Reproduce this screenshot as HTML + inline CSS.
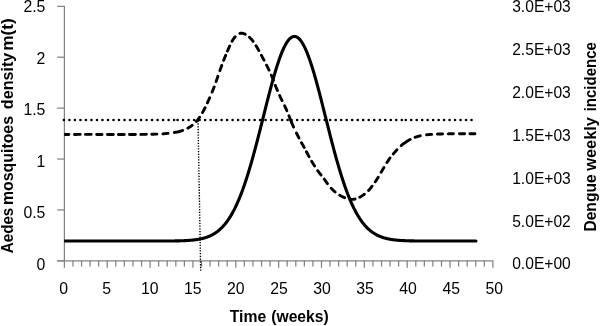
<!DOCTYPE html>
<html><head><meta charset="utf-8"><style>
html,body{margin:0;padding:0;background:#fff;}
svg{display:block;will-change:transform;}
text{font-family:"Liberation Sans",sans-serif;}
</style></head><body>
<svg width="600" height="326" viewBox="0 0 600 326">
<defs><clipPath id="pa"><rect x="64.2" y="0" width="440" height="260.8"/></clipPath></defs>
<rect width="600" height="326" fill="#fff"/>
<g stroke="#828282" stroke-width="1.25" fill="none" stroke-linejoin="miter">
<path d="M57.2,6.3 H64.4 V260.85"/>
<line x1="57.2" y1="260.85" x2="64.4" y2="260.85"/>
<line x1="57.2" y1="209.94" x2="64.4" y2="209.94"/>
<line x1="57.2" y1="159.03" x2="64.4" y2="159.03"/>
<line x1="57.2" y1="108.12" x2="64.4" y2="108.12"/>
<line x1="57.2" y1="57.21" x2="64.4" y2="57.21"/>
<path d="M57.2,260.85 H492.9 V267.8"/>
<line x1="64.40" y1="260.85" x2="64.40" y2="267.8"/>
<line x1="72.97" y1="260.85" x2="72.97" y2="266.6"/>
<line x1="81.54" y1="260.85" x2="81.54" y2="266.6"/>
<line x1="90.11" y1="260.85" x2="90.11" y2="266.6"/>
<line x1="98.68" y1="260.85" x2="98.68" y2="266.6"/>
<line x1="107.25" y1="260.85" x2="107.25" y2="267.8"/>
<line x1="115.82" y1="260.85" x2="115.82" y2="266.6"/>
<line x1="124.39" y1="260.85" x2="124.39" y2="266.6"/>
<line x1="132.96" y1="260.85" x2="132.96" y2="266.6"/>
<line x1="141.53" y1="260.85" x2="141.53" y2="266.6"/>
<line x1="150.10" y1="260.85" x2="150.10" y2="267.8"/>
<line x1="158.67" y1="260.85" x2="158.67" y2="266.6"/>
<line x1="167.24" y1="260.85" x2="167.24" y2="266.6"/>
<line x1="175.81" y1="260.85" x2="175.81" y2="266.6"/>
<line x1="184.38" y1="260.85" x2="184.38" y2="266.6"/>
<line x1="192.95" y1="260.85" x2="192.95" y2="267.8"/>
<line x1="201.52" y1="260.85" x2="201.52" y2="266.6"/>
<line x1="210.09" y1="260.85" x2="210.09" y2="266.6"/>
<line x1="218.66" y1="260.85" x2="218.66" y2="266.6"/>
<line x1="227.23" y1="260.85" x2="227.23" y2="266.6"/>
<line x1="235.80" y1="260.85" x2="235.80" y2="267.8"/>
<line x1="244.37" y1="260.85" x2="244.37" y2="266.6"/>
<line x1="252.94" y1="260.85" x2="252.94" y2="266.6"/>
<line x1="261.51" y1="260.85" x2="261.51" y2="266.6"/>
<line x1="270.08" y1="260.85" x2="270.08" y2="266.6"/>
<line x1="278.65" y1="260.85" x2="278.65" y2="267.8"/>
<line x1="287.22" y1="260.85" x2="287.22" y2="266.6"/>
<line x1="295.79" y1="260.85" x2="295.79" y2="266.6"/>
<line x1="304.36" y1="260.85" x2="304.36" y2="266.6"/>
<line x1="312.93" y1="260.85" x2="312.93" y2="266.6"/>
<line x1="321.50" y1="260.85" x2="321.50" y2="267.8"/>
<line x1="330.07" y1="260.85" x2="330.07" y2="266.6"/>
<line x1="338.64" y1="260.85" x2="338.64" y2="266.6"/>
<line x1="347.21" y1="260.85" x2="347.21" y2="266.6"/>
<line x1="355.78" y1="260.85" x2="355.78" y2="266.6"/>
<line x1="364.35" y1="260.85" x2="364.35" y2="267.8"/>
<line x1="372.92" y1="260.85" x2="372.92" y2="266.6"/>
<line x1="381.49" y1="260.85" x2="381.49" y2="266.6"/>
<line x1="390.06" y1="260.85" x2="390.06" y2="266.6"/>
<line x1="398.63" y1="260.85" x2="398.63" y2="266.6"/>
<line x1="407.20" y1="260.85" x2="407.20" y2="267.8"/>
<line x1="415.77" y1="260.85" x2="415.77" y2="266.6"/>
<line x1="424.34" y1="260.85" x2="424.34" y2="266.6"/>
<line x1="432.91" y1="260.85" x2="432.91" y2="266.6"/>
<line x1="441.48" y1="260.85" x2="441.48" y2="266.6"/>
<line x1="450.05" y1="260.85" x2="450.05" y2="267.8"/>
<line x1="458.62" y1="260.85" x2="458.62" y2="266.6"/>
<line x1="467.19" y1="260.85" x2="467.19" y2="266.6"/>
<line x1="475.76" y1="260.85" x2="475.76" y2="266.6"/>
<line x1="484.33" y1="260.85" x2="484.33" y2="266.6"/>
</g>
<g font-size="15.8" fill="#000">
<text x="45.4" y="269.50" text-anchor="end">0</text>
<text x="45.4" y="218.08" text-anchor="end">0.5</text>
<text x="45.4" y="166.66" text-anchor="end">1</text>
<text x="45.4" y="115.24" text-anchor="end">1.5</text>
<text x="45.4" y="63.82" text-anchor="end">2</text>
<text x="45.4" y="12.40" text-anchor="end">2.5</text>
<text x="512.2" y="269.40" textLength="58.6" lengthAdjust="spacingAndGlyphs">0.0E+00</text>
<text x="512.2" y="226.58" textLength="58.6" lengthAdjust="spacingAndGlyphs">5.0E+02</text>
<text x="512.2" y="183.76" textLength="58.6" lengthAdjust="spacingAndGlyphs">1.0E+03</text>
<text x="512.2" y="140.94" textLength="58.6" lengthAdjust="spacingAndGlyphs">1.5E+03</text>
<text x="512.2" y="98.12" textLength="58.6" lengthAdjust="spacingAndGlyphs">2.0E+03</text>
<text x="512.2" y="55.30" textLength="58.6" lengthAdjust="spacingAndGlyphs">2.5E+03</text>
<text x="512.2" y="12.48" textLength="58.6" lengthAdjust="spacingAndGlyphs">3.0E+03</text>
<text x="63.60" y="293.9" text-anchor="middle">0</text>
<text x="106.66" y="293.9" text-anchor="middle">5</text>
<text x="149.73" y="293.9" text-anchor="middle">10</text>
<text x="192.79" y="293.9" text-anchor="middle">15</text>
<text x="235.86" y="293.9" text-anchor="middle">20</text>
<text x="278.93" y="293.9" text-anchor="middle">25</text>
<text x="321.99" y="293.9" text-anchor="middle">30</text>
<text x="365.06" y="293.9" text-anchor="middle">35</text>
<text x="408.12" y="293.9" text-anchor="middle">40</text>
<text x="451.19" y="293.9" text-anchor="middle">45</text>
<text x="494.25" y="293.9" text-anchor="middle">50</text>
</g>
<g font-weight="bold" font-size="16" fill="#000">
<text transform="translate(13.2,253.20) rotate(-90) scale(0.9479,1)">Aedes</text>
<text transform="translate(13.2,204.99) rotate(-90) scale(0.9921,1)">mosquitoes</text>
<text transform="translate(13.2,109.20) rotate(-90) scale(1.0089,1)">density</text>
<text transform="translate(13.2,50.68) rotate(-90) scale(1.0759,1)">m(t)</text>
<text transform="translate(596,231.58) rotate(-90) scale(0.9754,1)">Dengue</text>
<text transform="translate(596,170.70) rotate(-90) scale(1.0226,1)">weekly</text>
<text transform="translate(596,111.34) rotate(-90) scale(0.9370,1)">incidence</text>
<text transform="translate(229.70,321.5) scale(0.9838,1)">Time</text>
<text transform="translate(271.22,321.5) scale(0.9807,1)">(weeks)</text>
</g>
<g fill="none" stroke="#000">
<line x1="198" y1="120.6" x2="200.7" y2="270.8" stroke-width="1.4" stroke-dasharray="1.3 1.46" stroke="#000"/>
<g stroke-width="2.6" stroke-linecap="round">
<line x1="63.9" y1="119.95" x2="174.20" y2="119.95" stroke-dasharray="0.01 5.5"/>
<line x1="177.6" y1="119.95" x2="287.70" y2="119.95" stroke-dasharray="0.01 5.49"/>
<line x1="291.6" y1="119.95" x2="401.90" y2="119.95" stroke-dasharray="0.01 5.5"/>
<line x1="405.75" y1="119.95" x2="471.69" y2="119.95" stroke-dasharray="0.01 5.47"/>
</g>
<g clip-path="url(#pa)" stroke-linecap="round" stroke-linejoin="round">
<path d="M64.20,134.45 L64.45,134.45 L64.70,134.45 L64.95,134.45 L65.20,134.45 L65.45,134.45 L65.70,134.45 L65.95,134.45 L66.20,134.45 L66.45,134.44 L66.70,134.44 L66.95,134.44 L67.20,134.44 L67.45,134.44 L67.70,134.44 L67.95,134.44 L68.20,134.44 L68.45,134.44 L68.70,134.44 L68.95,134.44 L69.20,134.44 L69.45,134.44 L69.70,134.44 L69.95,134.44 L70.20,134.44 L70.45,134.44 L70.70,134.44 L70.95,134.44 L71.20,134.43 L71.45,134.43 L71.70,134.43 L71.95,134.43 L72.20,134.43 L72.45,134.43 L72.70,134.43 L72.95,134.43 L73.20,134.43 L73.45,134.43 L73.70,134.43 L73.95,134.43 L74.20,134.43 L74.45,134.43 L74.70,134.43 L74.95,134.43 L75.20,134.43 L75.45,134.43 L75.70,134.43 L75.95,134.43 L76.20,134.43 L76.45,134.43 L76.70,134.43 L76.95,134.43 L77.20,134.42 L77.45,134.42 L77.70,134.42 L77.95,134.42 L78.20,134.42 L78.45,134.42 L78.70,134.42 L78.95,134.42 L79.20,134.42 L79.45,134.42 L79.70,134.42 L79.95,134.42 L80.20,134.42 L80.45,134.42 L80.70,134.42 L80.95,134.42 L81.20,134.42 L81.45,134.42 L81.70,134.42 L81.95,134.42 L82.20,134.42 L82.45,134.42 L82.70,134.42 L82.95,134.42 L83.20,134.42 L83.45,134.42 L83.70,134.42 L83.95,134.42 L84.20,134.42 L84.45,134.42 L84.70,134.42 L84.95,134.42 L85.20,134.42 L85.45,134.42 L85.70,134.42 L85.95,134.42 L86.20,134.42 L86.45,134.42 L86.70,134.42 L86.95,134.42 L87.20,134.42 L87.45,134.42 L87.70,134.42 L87.95,134.42 L88.20,134.42 L88.45,134.42 L88.70,134.42 L88.95,134.42 L89.20,134.42 L89.45,134.42 L89.70,134.42 L89.95,134.42 L90.20,134.42 L90.45,134.42 L90.70,134.42 L90.95,134.42 L91.20,134.42 L91.45,134.42 L91.70,134.42 L91.95,134.43 L92.20,134.43 L92.45,134.43 L92.70,134.43 L92.95,134.43 L93.20,134.43 L93.45,134.43 L93.70,134.43 L93.95,134.43 L94.20,134.43 L94.45,134.43 L94.70,134.43 L94.95,134.43 L95.20,134.43 L95.45,134.43 L95.70,134.43 L95.95,134.44 L96.20,134.44 L96.45,134.44 L96.70,134.44 L96.95,134.44 L97.20,134.44 L97.45,134.44 L97.70,134.44 L97.95,134.44 L98.20,134.44 L98.45,134.44 L98.70,134.44 L98.95,134.45 L99.20,134.45 L99.45,134.45 L99.70,134.45 L99.95,134.45 L100.20,134.45 L100.45,134.45 L100.70,134.45 L100.95,134.45 L101.20,134.46 L101.45,134.46 L101.70,134.46 L101.95,134.46 L102.20,134.46 L102.45,134.46 L102.70,134.46 L102.95,134.46 L103.20,134.47 L103.45,134.47 L103.70,134.47 L103.95,134.47 L104.20,134.47 L104.45,134.47 L104.70,134.47 L104.95,134.48 L105.20,134.48 L105.45,134.48 L105.70,134.48 L105.95,134.48 L106.20,134.48 L106.45,134.48 L106.70,134.49 L106.95,134.49 L107.20,134.49 L107.45,134.49 L107.70,134.49 L107.95,134.49 L108.20,134.50 L108.45,134.50 L108.70,134.50 L108.95,134.50 L109.20,134.50 L109.45,134.50 L109.70,134.50 L109.95,134.51 L110.20,134.51 L110.45,134.51 L110.70,134.51 L110.95,134.51 L111.20,134.51 L111.45,134.51 L111.70,134.52 L111.95,134.52 L112.20,134.52 L112.45,134.52 L112.70,134.52 L112.95,134.52 L113.20,134.52 L113.45,134.53 L113.70,134.53 L113.95,134.53 L114.20,134.53 L114.45,134.53 L114.70,134.53 L114.95,134.53 L115.20,134.54 L115.45,134.54 L115.70,134.54 L115.95,134.54 L116.20,134.54 L116.45,134.54 L116.70,134.54 L116.95,134.54 L117.20,134.54 L117.45,134.55 L117.70,134.55 L117.95,134.55 L118.20,134.55 L118.45,134.55 L118.70,134.55 L118.95,134.55 L119.20,134.55 L119.45,134.55 L119.70,134.55 L119.95,134.55 L120.20,134.56 L120.45,134.56 L120.70,134.56 L120.95,134.56 L121.20,134.56 L121.45,134.56 L121.70,134.56 L121.95,134.56 L122.20,134.56 L122.45,134.56 L122.70,134.56 L122.95,134.56 L123.20,134.56 L123.45,134.56 L123.70,134.56 L123.95,134.56 L124.20,134.56 L124.45,134.56 L124.70,134.56 L124.95,134.56 L125.20,134.56 L125.45,134.56 L125.70,134.56 L125.95,134.56 L126.20,134.56 L126.45,134.56 L126.70,134.56 L126.95,134.56 L127.20,134.56 L127.45,134.56 L127.70,134.56 L127.95,134.56 L128.20,134.56 L128.45,134.56 L128.70,134.56 L128.95,134.55 L129.20,134.55 L129.45,134.55 L129.70,134.55 L129.95,134.55 L130.20,134.55 L130.45,134.55 L130.70,134.55 L130.95,134.55 L131.20,134.54 L131.45,134.54 L131.70,134.54 L131.95,134.54 L132.20,134.54 L132.45,134.54 L132.70,134.53 L132.95,134.53 L133.20,134.53 L133.45,134.53 L133.70,134.53 L133.95,134.52 L134.20,134.52 L134.45,134.52 L134.70,134.52 L134.95,134.52 L135.20,134.51 L135.45,134.51 L135.70,134.51 L135.95,134.50 L136.20,134.50 L136.45,134.50 L136.70,134.50 L136.95,134.49 L137.20,134.49 L137.45,134.49 L137.70,134.48 L137.95,134.48 L138.20,134.48 L138.45,134.47 L138.70,134.47 L138.95,134.47 L139.20,134.46 L139.45,134.46 L139.70,134.45 L139.95,134.45 L140.20,134.45 L140.45,134.44 L140.70,134.44 L140.95,134.43 L141.20,134.43 L141.45,134.42 L141.70,134.42 L141.95,134.41 L142.20,134.41 L142.45,134.41 L142.70,134.40 L142.95,134.40 L143.20,134.39 L143.45,134.39 L143.70,134.38 L143.95,134.38 L144.20,134.37 L144.45,134.36 L144.70,134.36 L144.95,134.35 L145.20,134.35 L145.45,134.34 L145.70,134.34 L145.95,134.33 L146.20,134.33 L146.45,134.32 L146.70,134.32 L146.95,134.31 L147.20,134.31 L147.45,134.30 L147.70,134.30 L147.95,134.29 L148.20,134.29 L148.45,134.28 L148.70,134.28 L148.95,134.27 L149.20,134.26 L149.45,134.26 L149.70,134.25 L149.95,134.25 L150.20,134.24 L150.45,134.24 L150.70,134.23 L150.95,134.23 L151.20,134.22 L151.45,134.22 L151.70,134.22 L151.95,134.21 L152.20,134.21 L152.45,134.20 L152.70,134.20 L152.95,134.19 L153.20,134.19 L153.45,134.18 L153.70,134.18 L153.95,134.18 L154.20,134.17 L154.45,134.17 L154.70,134.16 L154.95,134.16 L155.20,134.15 L155.45,134.15 L155.70,134.14 L155.95,134.14 L156.20,134.13 L156.45,134.12 L156.70,134.12 L156.95,134.11 L157.20,134.11 L157.45,134.10 L157.70,134.09 L157.95,134.08 L158.20,134.08 L158.45,134.07 L158.70,134.06 L158.95,134.05 L159.20,134.04 L159.45,134.03 L159.70,134.02 L159.95,134.01 L160.20,133.99 L160.45,133.98 L160.70,133.97 L160.95,133.95 L161.20,133.94 L161.45,133.93 L161.70,133.91 L161.95,133.89 L162.20,133.88 L162.45,133.86 L162.70,133.84 L162.95,133.82 L163.20,133.80 L163.45,133.78 L163.70,133.76 L163.95,133.74 L164.20,133.71 L164.45,133.69 L164.70,133.66 L164.95,133.64 L165.20,133.61 L165.45,133.58 L165.70,133.56 L165.95,133.53 L166.20,133.50 L166.45,133.47 L166.70,133.44 L166.95,133.41 L167.20,133.38 L167.45,133.35 L167.70,133.31 L167.95,133.28 L168.20,133.25 L168.45,133.22 L168.70,133.19 L168.95,133.16 L169.20,133.12 L169.45,133.09 L169.70,133.06 L169.95,133.03 L170.20,133.00 L170.45,132.97 L170.70,132.94 L170.95,132.91 L171.20,132.88 L171.45,132.85 L171.70,132.82 L171.95,132.79 L172.20,132.76 L172.45,132.73 L172.70,132.70 L172.95,132.67 L173.20,132.64 L173.45,132.61 L173.70,132.58 L173.95,132.54 L174.20,132.51 L174.45,132.47 L174.70,132.44 L174.95,132.40 L175.20,132.36 L175.45,132.32 L175.70,132.28 L175.95,132.24 L176.20,132.20 L176.45,132.15 L176.70,132.11 L176.95,132.06 L177.20,132.01 L177.45,131.96 L177.70,131.90 L177.95,131.85 L178.20,131.79 L178.45,131.73 L178.70,131.67 L178.95,131.61 L179.20,131.55 L179.45,131.48 L179.70,131.41 L179.95,131.34 L180.20,131.27 L180.45,131.20 L180.70,131.13 L180.95,131.05 L181.20,130.97 L181.45,130.89 L181.70,130.81 L181.95,130.73 L182.20,130.64 L182.45,130.55 L182.70,130.46 L182.95,130.37 L183.20,130.28 L183.45,130.18 L183.70,130.09 L183.95,129.99 L184.20,129.89 L184.45,129.78 L184.70,129.68 L184.95,129.57 L185.20,129.46 L185.45,129.35 L185.70,129.23 L185.95,129.11 L186.20,128.99 L186.45,128.87 L186.70,128.75 L186.95,128.62 L187.20,128.49 L187.45,128.36 L187.70,128.23 L187.95,128.09 L188.20,127.95 L188.45,127.81 L188.70,127.66 L188.95,127.51 L189.20,127.36 L189.45,127.21 L189.70,127.05 L189.95,126.89 L190.20,126.73 L190.45,126.57 L190.70,126.40 L190.95,126.23 L191.20,126.05 L191.45,125.87 L191.70,125.69 L191.95,125.50 L192.20,125.31 L192.45,125.11 L192.70,124.91 L192.95,124.71 L193.20,124.50 L193.45,124.29 L193.70,124.07 L193.95,123.85 L194.20,123.62 L194.45,123.39 L194.70,123.15 L194.95,122.91 L195.20,122.66 L195.45,122.40 L195.70,122.14 L195.95,121.88 L196.20,121.60 L196.45,121.33 L196.70,121.04 L196.95,120.75 L197.20,120.45 L197.45,120.15 L197.70,119.84 L197.95,119.52 L198.20,119.20 L198.45,118.87 L198.70,118.54 L198.95,118.20 L199.20,117.85 L199.45,117.49 L199.70,117.13 L199.95,116.76 L200.20,116.39 L200.45,116.01 L200.70,115.62 L200.95,115.23 L201.20,114.83 L201.45,114.42 L201.70,114.00 L201.95,113.58 L202.20,113.15 L202.45,112.72 L202.70,112.28 L202.95,111.83 L203.20,111.37 L203.45,110.91 L203.70,110.44 L203.95,109.96 L204.20,109.48 L204.45,108.99 L204.70,108.50 L204.95,108.00 L205.20,107.49 L205.45,106.98 L205.70,106.47 L205.95,105.95 L206.20,105.42 L206.45,104.89 L206.70,104.36 L206.95,103.82 L207.20,103.28 L207.45,102.74 L207.70,102.19 L207.95,101.64 L208.20,101.09 L208.45,100.53 L208.70,99.97 L208.95,99.41 L209.20,98.85 L209.45,98.28 L209.70,97.71 L209.95,97.14 L210.20,96.57 L210.45,95.99 L210.70,95.41 L210.95,94.82 L211.20,94.24 L211.45,93.64 L211.70,93.05 L211.95,92.45 L212.20,91.84 L212.45,91.23 L212.70,90.62 L212.95,90.00 L213.20,89.37 L213.45,88.74 L213.70,88.10 L213.95,87.45 L214.20,86.80 L214.45,86.13 L214.70,85.46 L214.95,84.78 L215.20,84.09 L215.45,83.40 L215.70,82.69 L215.95,81.99 L216.20,81.27 L216.45,80.56 L216.70,79.84 L216.95,79.11 L217.20,78.39 L217.45,77.66 L217.70,76.94 L217.95,76.21 L218.20,75.49 L218.45,74.76 L218.70,74.04 L218.95,73.32 L219.20,72.60 L219.45,71.88 L219.70,71.17 L219.95,70.45 L220.20,69.75 L220.45,69.04 L220.70,68.34 L220.95,67.64 L221.20,66.95 L221.45,66.26 L221.70,65.58 L221.95,64.90 L222.20,64.22 L222.45,63.55 L222.70,62.89 L222.95,62.23 L223.20,61.57 L223.45,60.92 L223.70,60.28 L223.95,59.64 L224.20,59.00 L224.45,58.37 L224.70,57.74 L224.95,57.12 L225.20,56.50 L225.45,55.88 L225.70,55.27 L225.95,54.66 L226.20,54.05 L226.45,53.45 L226.70,52.85 L226.95,52.25 L227.20,51.65 L227.45,51.06 L227.70,50.48 L227.95,49.89 L228.20,49.32 L228.45,48.74 L228.70,48.18 L228.95,47.61 L229.20,47.06 L229.45,46.51 L229.70,45.96 L229.95,45.43 L230.20,44.90 L230.45,44.38 L230.70,43.87 L230.95,43.37 L231.20,42.87 L231.45,42.39 L231.70,41.92 L231.95,41.46 L232.20,41.01 L232.45,40.58 L232.70,40.15 L232.95,39.74 L233.20,39.35 L233.45,38.97 L233.70,38.60 L233.95,38.24 L234.20,37.90 L234.45,37.57 L234.70,37.26 L234.95,36.96 L235.20,36.67 L235.45,36.39 L235.70,36.12 L235.95,35.87 L236.20,35.63 L236.45,35.40 L236.70,35.19 L236.95,34.98 L237.20,34.79 L237.45,34.61 L237.70,34.44 L237.95,34.28 L238.20,34.13 L238.45,33.99 L238.70,33.87 L238.95,33.76 L239.20,33.65 L239.45,33.56 L239.70,33.48 L239.95,33.41 L240.20,33.35 L240.45,33.30 L240.70,33.26 L240.95,33.23 L241.20,33.22 L241.45,33.21 L241.70,33.21 L241.95,33.23 L242.20,33.25 L242.45,33.28 L242.70,33.33 L242.95,33.38 L243.20,33.44 L243.45,33.51 L243.70,33.59 L243.95,33.68 L244.20,33.77 L244.45,33.88 L244.70,33.99 L244.95,34.10 L245.20,34.23 L245.45,34.36 L245.70,34.50 L245.95,34.64 L246.20,34.79 L246.45,34.95 L246.70,35.11 L246.95,35.28 L247.20,35.45 L247.45,35.62 L247.70,35.80 L247.95,35.99 L248.20,36.18 L248.45,36.38 L248.70,36.58 L248.95,36.79 L249.20,37.01 L249.45,37.23 L249.70,37.45 L249.95,37.69 L250.20,37.93 L250.45,38.18 L250.70,38.44 L250.95,38.70 L251.20,38.97 L251.45,39.25 L251.70,39.54 L251.95,39.84 L252.20,40.14 L252.45,40.45 L252.70,40.78 L252.95,41.10 L253.20,41.44 L253.45,41.78 L253.70,42.14 L253.95,42.49 L254.20,42.86 L254.45,43.23 L254.70,43.61 L254.95,43.99 L255.20,44.38 L255.45,44.78 L255.70,45.18 L255.95,45.58 L256.20,46.00 L256.45,46.41 L256.70,46.83 L256.95,47.26 L257.20,47.69 L257.45,48.12 L257.70,48.56 L257.95,49.00 L258.20,49.45 L258.45,49.90 L258.70,50.35 L258.95,50.80 L259.20,51.26 L259.45,51.72 L259.70,52.18 L259.95,52.64 L260.20,53.10 L260.45,53.57 L260.70,54.03 L260.95,54.50 L261.20,54.97 L261.45,55.43 L261.70,55.90 L261.95,56.37 L262.20,56.84 L262.45,57.30 L262.70,57.77 L262.95,58.23 L263.20,58.70 L263.45,59.16 L263.70,59.63 L263.95,60.10 L264.20,60.56 L264.45,61.03 L264.70,61.50 L264.95,61.97 L265.20,62.44 L265.45,62.92 L265.70,63.39 L265.95,63.87 L266.20,64.36 L266.45,64.84 L266.70,65.33 L266.95,65.82 L267.20,66.31 L267.45,66.81 L267.70,67.32 L267.95,67.82 L268.20,68.33 L268.45,68.85 L268.70,69.37 L268.95,69.90 L269.20,70.43 L269.45,70.97 L269.70,71.51 L269.95,72.06 L270.20,72.61 L270.45,73.17 L270.70,73.73 L270.95,74.31 L271.20,74.88 L271.45,75.47 L271.70,76.06 L271.95,76.66 L272.20,77.27 L272.45,77.88 L272.70,78.50 L272.95,79.12 L273.20,79.76 L273.45,80.40 L273.70,81.04 L273.95,81.69 L274.20,82.35 L274.45,83.00 L274.70,83.66 L274.95,84.32 L275.20,84.97 L275.45,85.62 L275.70,86.27 L275.95,86.91 L276.20,87.54 L276.45,88.17 L276.70,88.79 L276.95,89.40 L277.20,90.01 L277.45,90.61 L277.70,91.20 L277.95,91.79 L278.20,92.37 L278.45,92.94 L278.70,93.51 L278.95,94.07 L279.20,94.63 L279.45,95.18 L279.70,95.72 L279.95,96.26 L280.20,96.79 L280.45,97.32 L280.70,97.84 L280.95,98.36 L281.20,98.87 L281.45,99.38 L281.70,99.88 L281.95,100.39 L282.20,100.89 L282.45,101.39 L282.70,101.89 L282.95,102.40 L283.20,102.90 L283.45,103.40 L283.70,103.91 L283.95,104.42 L284.20,104.93 L284.45,105.45 L284.70,105.97 L284.95,106.49 L285.20,107.02 L285.45,107.56 L285.70,108.10 L285.95,108.65 L286.20,109.20 L286.45,109.77 L286.70,110.33 L286.95,110.91 L287.20,111.49 L287.45,112.09 L287.70,112.69 L287.95,113.30 L288.20,113.91 L288.45,114.54 L288.70,115.18 L288.95,115.82 L289.20,116.46 L289.45,117.11 L289.70,117.75 L289.95,118.40 L290.20,119.04 L290.45,119.67 L290.70,120.31 L290.95,120.93 L291.20,121.55 L291.45,122.16 L291.70,122.77 L291.95,123.37 L292.20,123.96 L292.45,124.55 L292.70,125.12 L292.95,125.69 L293.20,126.25 L293.45,126.80 L293.70,127.35 L293.95,127.88 L294.20,128.41 L294.45,128.94 L294.70,129.46 L294.95,129.97 L295.20,130.48 L295.45,130.99 L295.70,131.49 L295.95,131.99 L296.20,132.49 L296.45,132.99 L296.70,133.49 L296.95,133.99 L297.20,134.49 L297.45,134.99 L297.70,135.48 L297.95,135.98 L298.20,136.47 L298.45,136.97 L298.70,137.46 L298.95,137.95 L299.20,138.43 L299.45,138.91 L299.70,139.39 L299.95,139.86 L300.20,140.33 L300.45,140.80 L300.70,141.26 L300.95,141.72 L301.20,142.17 L301.45,142.62 L301.70,143.07 L301.95,143.51 L302.20,143.96 L302.45,144.40 L302.70,144.84 L302.95,145.29 L303.20,145.73 L303.45,146.18 L303.70,146.63 L303.95,147.08 L304.20,147.54 L304.45,148.00 L304.70,148.46 L304.95,148.93 L305.20,149.40 L305.45,149.88 L305.70,150.35 L305.95,150.83 L306.20,151.31 L306.45,151.79 L306.70,152.27 L306.95,152.75 L307.20,153.23 L307.45,153.71 L307.70,154.19 L307.95,154.66 L308.20,155.13 L308.45,155.60 L308.70,156.06 L308.95,156.52 L309.20,156.98 L309.45,157.43 L309.70,157.88 L309.95,158.33 L310.20,158.77 L310.45,159.21 L310.70,159.64 L310.95,160.08 L311.20,160.51 L311.45,160.93 L311.70,161.36 L311.95,161.78 L312.20,162.20 L312.45,162.61 L312.70,163.03 L312.95,163.44 L313.20,163.85 L313.45,164.26 L313.70,164.67 L313.95,165.07 L314.20,165.47 L314.45,165.87 L314.70,166.27 L314.95,166.66 L315.20,167.05 L315.45,167.43 L315.70,167.81 L315.95,168.19 L316.20,168.56 L316.45,168.93 L316.70,169.29 L316.95,169.65 L317.20,170.00 L317.45,170.35 L317.70,170.70 L317.95,171.04 L318.20,171.37 L318.45,171.70 L318.70,172.03 L318.95,172.36 L319.20,172.68 L319.45,173.00 L319.70,173.31 L319.95,173.63 L320.20,173.94 L320.45,174.25 L320.70,174.56 L320.95,174.87 L321.20,175.18 L321.45,175.49 L321.70,175.80 L321.95,176.11 L322.20,176.42 L322.45,176.74 L322.70,177.05 L322.95,177.37 L323.20,177.69 L323.45,178.02 L323.70,178.35 L323.95,178.68 L324.20,179.03 L324.45,179.37 L324.70,179.73 L324.95,180.09 L325.20,180.45 L325.45,180.82 L325.70,181.18 L325.95,181.55 L326.20,181.91 L326.45,182.27 L326.70,182.62 L326.95,182.97 L327.20,183.31 L327.45,183.65 L327.70,183.99 L327.95,184.32 L328.20,184.64 L328.45,184.97 L328.70,185.29 L328.95,185.60 L329.20,185.91 L329.45,186.21 L329.70,186.52 L329.95,186.81 L330.20,187.10 L330.45,187.39 L330.70,187.68 L330.95,187.96 L331.20,188.23 L331.45,188.50 L331.70,188.77 L331.95,189.03 L332.20,189.29 L332.45,189.54 L332.70,189.79 L332.95,190.03 L333.20,190.27 L333.45,190.51 L333.70,190.74 L333.95,190.97 L334.20,191.19 L334.45,191.41 L334.70,191.63 L334.95,191.84 L335.20,192.05 L335.45,192.25 L335.70,192.45 L335.95,192.65 L336.20,192.84 L336.45,193.03 L336.70,193.22 L336.95,193.40 L337.20,193.59 L337.45,193.76 L337.70,193.94 L337.95,194.11 L338.20,194.28 L338.45,194.44 L338.70,194.60 L338.95,194.76 L339.20,194.92 L339.45,195.08 L339.70,195.23 L339.95,195.38 L340.20,195.52 L340.45,195.66 L340.70,195.80 L340.95,195.94 L341.20,196.08 L341.45,196.21 L341.70,196.34 L341.95,196.46 L342.20,196.59 L342.45,196.71 L342.70,196.83 L342.95,196.94 L343.20,197.06 L343.45,197.17 L343.70,197.28 L343.95,197.38 L344.20,197.48 L344.45,197.58 L344.70,197.68 L344.95,197.78 L345.20,197.87 L345.45,197.96 L345.70,198.05 L345.95,198.13 L346.20,198.22 L346.45,198.30 L346.70,198.37 L346.95,198.45 L347.20,198.52 L347.45,198.59 L347.70,198.66 L347.95,198.72 L348.20,198.78 L348.45,198.84 L348.70,198.90 L348.95,198.95 L349.20,199.00 L349.45,199.05 L349.70,199.09 L349.95,199.14 L350.20,199.18 L350.45,199.21 L350.70,199.24 L350.95,199.27 L351.20,199.30 L351.45,199.32 L351.70,199.33 L351.95,199.35 L352.20,199.35 L352.45,199.35 L352.70,199.35 L352.95,199.34 L353.20,199.33 L353.45,199.31 L353.70,199.28 L353.95,199.25 L354.20,199.22 L354.45,199.18 L354.70,199.13 L354.95,199.08 L355.20,199.03 L355.45,198.97 L355.70,198.91 L355.95,198.84 L356.20,198.76 L356.45,198.68 L356.70,198.60 L356.95,198.51 L357.20,198.42 L357.45,198.32 L357.70,198.22 L357.95,198.12 L358.20,198.01 L358.45,197.89 L358.70,197.77 L358.95,197.65 L359.20,197.52 L359.45,197.39 L359.70,197.26 L359.95,197.12 L360.20,196.98 L360.45,196.84 L360.70,196.69 L360.95,196.54 L361.20,196.39 L361.45,196.23 L361.70,196.08 L361.95,195.92 L362.20,195.75 L362.45,195.59 L362.70,195.42 L362.95,195.25 L363.20,195.08 L363.45,194.90 L363.70,194.73 L363.95,194.55 L364.20,194.36 L364.45,194.17 L364.70,193.98 L364.95,193.79 L365.20,193.59 L365.45,193.38 L365.70,193.18 L365.95,192.96 L366.20,192.75 L366.45,192.53 L366.70,192.30 L366.95,192.07 L367.20,191.83 L367.45,191.59 L367.70,191.34 L367.95,191.09 L368.20,190.83 L368.45,190.57 L368.70,190.30 L368.95,190.02 L369.20,189.74 L369.45,189.46 L369.70,189.16 L369.95,188.87 L370.20,188.57 L370.45,188.26 L370.70,187.95 L370.95,187.64 L371.20,187.32 L371.45,187.00 L371.70,186.68 L371.95,186.35 L372.20,186.02 L372.45,185.69 L372.70,185.35 L372.95,185.01 L373.20,184.67 L373.45,184.33 L373.70,183.99 L373.95,183.65 L374.20,183.30 L374.45,182.95 L374.70,182.59 L374.95,182.24 L375.20,181.88 L375.45,181.52 L375.70,181.15 L375.95,180.78 L376.20,180.41 L376.45,180.03 L376.70,179.65 L376.95,179.27 L377.20,178.88 L377.45,178.49 L377.70,178.09 L377.95,177.68 L378.20,177.28 L378.45,176.86 L378.70,176.45 L378.95,176.03 L379.20,175.61 L379.45,175.19 L379.70,174.76 L379.95,174.33 L380.20,173.90 L380.45,173.47 L380.70,173.04 L380.95,172.60 L381.20,172.17 L381.45,171.73 L381.70,171.30 L381.95,170.86 L382.20,170.43 L382.45,170.00 L382.70,169.57 L382.95,169.14 L383.20,168.71 L383.45,168.28 L383.70,167.85 L383.95,167.43 L384.20,167.01 L384.45,166.59 L384.70,166.17 L384.95,165.76 L385.20,165.35 L385.45,164.94 L385.70,164.53 L385.95,164.12 L386.20,163.72 L386.45,163.32 L386.70,162.92 L386.95,162.52 L387.20,162.13 L387.45,161.73 L387.70,161.35 L387.95,160.96 L388.20,160.58 L388.45,160.20 L388.70,159.83 L388.95,159.46 L389.20,159.10 L389.45,158.75 L389.70,158.40 L389.95,158.05 L390.20,157.72 L390.45,157.39 L390.70,157.06 L390.95,156.75 L391.20,156.43 L391.45,156.12 L391.70,155.82 L391.95,155.51 L392.20,155.21 L392.45,154.92 L392.70,154.62 L392.95,154.33 L393.20,154.04 L393.45,153.75 L393.70,153.46 L393.95,153.17 L394.20,152.88 L394.45,152.59 L394.70,152.30 L394.95,152.02 L395.20,151.73 L395.45,151.45 L395.70,151.16 L395.95,150.88 L396.20,150.60 L396.45,150.32 L396.70,150.04 L396.95,149.77 L397.20,149.50 L397.45,149.23 L397.70,148.96 L397.95,148.69 L398.20,148.43 L398.45,148.17 L398.70,147.91 L398.95,147.66 L399.20,147.41 L399.45,147.16 L399.70,146.91 L399.95,146.67 L400.20,146.44 L400.45,146.21 L400.70,145.98 L400.95,145.75 L401.20,145.53 L401.45,145.32 L401.70,145.11 L401.95,144.90 L402.20,144.70 L402.45,144.50 L402.70,144.31 L402.95,144.12 L403.20,143.93 L403.45,143.75 L403.70,143.57 L403.95,143.39 L404.20,143.21 L404.45,143.04 L404.70,142.87 L404.95,142.70 L405.20,142.53 L405.45,142.36 L405.70,142.19 L405.95,142.02 L406.20,141.86 L406.45,141.69 L406.70,141.53 L406.95,141.37 L407.20,141.21 L407.45,141.05 L407.70,140.89 L407.95,140.73 L408.20,140.57 L408.45,140.42 L408.70,140.27 L408.95,140.12 L409.20,139.97 L409.45,139.83 L409.70,139.69 L409.95,139.55 L410.20,139.42 L410.45,139.28 L410.70,139.15 L410.95,139.03 L411.20,138.91 L411.45,138.79 L411.70,138.67 L411.95,138.56 L412.20,138.45 L412.45,138.34 L412.70,138.24 L412.95,138.14 L413.20,138.04 L413.45,137.94 L413.70,137.84 L413.95,137.75 L414.20,137.66 L414.45,137.56 L414.70,137.47 L414.95,137.39 L415.20,137.30 L415.45,137.21 L415.70,137.13 L415.95,137.04 L416.20,136.96 L416.45,136.88 L416.70,136.80 L416.95,136.72 L417.20,136.64 L417.45,136.56 L417.70,136.49 L417.95,136.42 L418.20,136.34 L418.45,136.27 L418.70,136.20 L418.95,136.13 L419.20,136.07 L419.45,136.00 L419.70,135.94 L419.95,135.88 L420.20,135.82 L420.45,135.76 L420.70,135.71 L420.95,135.65 L421.20,135.60 L421.45,135.55 L421.70,135.50 L421.95,135.45 L422.20,135.40 L422.45,135.36 L422.70,135.32 L422.95,135.27 L423.20,135.23 L423.45,135.19 L423.70,135.15 L423.95,135.11 L424.20,135.08 L424.45,135.04 L424.70,135.01 L424.95,134.98 L425.20,134.94 L425.45,134.91 L425.70,134.88 L425.95,134.85 L426.20,134.82 L426.45,134.80 L426.70,134.77 L426.95,134.74 L427.20,134.72 L427.45,134.69 L427.70,134.67 L427.95,134.64 L428.20,134.62 L428.45,134.60 L428.70,134.58 L428.95,134.56 L429.20,134.53 L429.45,134.51 L429.70,134.49 L429.95,134.47 L430.20,134.46 L430.45,134.44 L430.70,134.42 L430.95,134.40 L431.20,134.38 L431.45,134.37 L431.70,134.35 L431.95,134.33 L432.20,134.32 L432.45,134.30 L432.70,134.29 L432.95,134.27 L433.20,134.26 L433.45,134.25 L433.70,134.23 L433.95,134.22 L434.20,134.21 L434.45,134.19 L434.70,134.18 L434.95,134.17 L435.20,134.16 L435.45,134.15 L435.70,134.14 L435.95,134.12 L436.20,134.11 L436.45,134.10 L436.70,134.09 L436.95,134.08 L437.20,134.08 L437.45,134.07 L437.70,134.06 L437.95,134.05 L438.20,134.04 L438.45,134.03 L438.70,134.02 L438.95,134.02 L439.20,134.01 L439.45,134.00 L439.70,133.99 L439.95,133.99 L440.20,133.98 L440.45,133.97 L440.70,133.97 L440.95,133.96 L441.20,133.95 L441.45,133.95 L441.70,133.94 L441.95,133.93 L442.20,133.93 L442.45,133.92 L442.70,133.92 L442.95,133.91 L443.20,133.91 L443.45,133.90 L443.70,133.90 L443.95,133.89 L444.20,133.89 L444.45,133.88 L444.70,133.88 L444.95,133.87 L445.20,133.87 L445.45,133.87 L445.70,133.86 L445.95,133.86 L446.20,133.85 L446.45,133.85 L446.70,133.85 L446.95,133.84 L447.20,133.84 L447.45,133.84 L447.70,133.83 L447.95,133.83 L448.20,133.83 L448.45,133.82 L448.70,133.82 L448.95,133.82 L449.20,133.81 L449.45,133.81 L449.70,133.81 L449.95,133.81 L450.20,133.80 L450.45,133.80 L450.70,133.80 L450.95,133.80 L451.20,133.79 L451.45,133.79 L451.70,133.79 L451.95,133.79 L452.20,133.78 L452.45,133.78 L452.70,133.78 L452.95,133.78 L453.20,133.78 L453.45,133.77 L453.70,133.77 L453.95,133.77 L454.20,133.77 L454.45,133.77 L454.70,133.76 L454.95,133.76 L455.20,133.76 L455.45,133.76 L455.70,133.76 L455.95,133.75 L456.20,133.75 L456.45,133.75 L456.70,133.75 L456.95,133.75 L457.20,133.75 L457.45,133.75 L457.70,133.74 L457.95,133.74 L458.20,133.74 L458.45,133.74 L458.70,133.74 L458.95,133.74 L459.20,133.74 L459.45,133.74 L459.70,133.73 L459.95,133.73 L460.20,133.73 L460.45,133.73 L460.70,133.73 L460.95,133.73 L461.20,133.73 L461.45,133.73 L461.70,133.73 L461.95,133.72 L462.20,133.72 L462.45,133.72 L462.70,133.72 L462.95,133.72 L463.20,133.72 L463.45,133.72 L463.70,133.72 L463.95,133.72 L464.20,133.72 L464.45,133.72 L464.70,133.72 L464.95,133.72 L465.20,133.71 L465.45,133.71 L465.70,133.71 L465.95,133.71 L466.20,133.71 L466.45,133.71 L466.70,133.71 L466.95,133.71 L467.20,133.71 L467.45,133.71 L467.70,133.71 L467.95,133.71 L468.20,133.71 L468.45,133.71 L468.70,133.71 L468.95,133.71 L469.20,133.71 L469.45,133.71 L469.70,133.71 L469.95,133.71 L470.20,133.71 L470.45,133.71 L470.70,133.70 L470.95,133.70 L471.20,133.70 L471.45,133.70 L471.70,133.70 L471.95,133.70 L472.20,133.70 L472.45,133.70 L472.70,133.70 L472.95,133.70 L473.20,133.70 L473.45,133.70 L473.70,133.70 L473.95,133.70 L474.20,133.70 L474.45,133.70 L474.70,133.70 L474.95,133.70 L475.20,133.70 L475.45,133.70 L475.70,133.70 L475.95,133.70" stroke-width="2.9" stroke-dasharray="4.68 5.57 5.77 5.23 5.77 5.43 5.40 5.40 5.90 5.10 5.77 5.23 5.97 5.33 5.70 5.30 5.10 6.08 5.10 6.50 8.46 5.73 5.10 5.66 5.50 5.47 5.50 5.39 5.50 6.23 5.50 5.76 5.50 6.04 5.50 5.47 5.50 4.60 5.50 5.24 5.50 5.88 5.50 5.26 5.50 5.25 5.50 5.49 5.50 5.63 5.50 5.56 5.50 5.50 5.50 5.56 5.50 5.75 5.50 5.55 12.12 6.63 5.50 5.40 5.50 4.87 5.50 5.38 5.50 5.67 5.50 5.15 5.50 5.91 5.50 5.59 5.50 5.57 5.10 5.07 5.50 5.69 5.50 5.39 5.50 5.70 5.50 5.85 5.50 5.23 5.50 6.05 10.90 5.24 5.50 6.35 5.10 5.87 5.10 5.75 5.10 6.00 5.20 5.25 5.10 1000.00"/>
<path d="M64.20,241.05 L64.45,241.05 L64.70,241.05 L64.95,241.05 L65.20,241.05 L65.45,241.05 L65.70,241.05 L65.95,241.05 L66.20,241.05 L66.45,241.05 L66.70,241.05 L66.95,241.05 L67.20,241.05 L67.45,241.05 L67.70,241.05 L67.95,241.05 L68.20,241.05 L68.45,241.05 L68.70,241.05 L68.95,241.05 L69.20,241.05 L69.45,241.05 L69.70,241.05 L69.95,241.05 L70.20,241.05 L70.45,241.05 L70.70,241.05 L70.95,241.05 L71.20,241.05 L71.45,241.05 L71.70,241.05 L71.95,241.05 L72.20,241.05 L72.45,241.05 L72.70,241.05 L72.95,241.05 L73.20,241.05 L73.45,241.05 L73.70,241.05 L73.95,241.05 L74.20,241.05 L74.45,241.05 L74.70,241.05 L74.95,241.05 L75.20,241.05 L75.45,241.05 L75.70,241.05 L75.95,241.05 L76.20,241.05 L76.45,241.05 L76.70,241.05 L76.95,241.05 L77.20,241.05 L77.45,241.05 L77.70,241.05 L77.95,241.05 L78.20,241.05 L78.45,241.05 L78.70,241.05 L78.95,241.05 L79.20,241.05 L79.45,241.05 L79.70,241.05 L79.95,241.05 L80.20,241.05 L80.45,241.05 L80.70,241.05 L80.95,241.05 L81.20,241.05 L81.45,241.05 L81.70,241.05 L81.95,241.05 L82.20,241.05 L82.45,241.05 L82.70,241.05 L82.95,241.05 L83.20,241.05 L83.45,241.05 L83.70,241.05 L83.95,241.05 L84.20,241.05 L84.45,241.05 L84.70,241.05 L84.95,241.05 L85.20,241.05 L85.45,241.05 L85.70,241.05 L85.95,241.05 L86.20,241.05 L86.45,241.05 L86.70,241.05 L86.95,241.05 L87.20,241.05 L87.45,241.05 L87.70,241.05 L87.95,241.05 L88.20,241.05 L88.45,241.05 L88.70,241.05 L88.95,241.05 L89.20,241.05 L89.45,241.05 L89.70,241.05 L89.95,241.05 L90.20,241.05 L90.45,241.05 L90.70,241.05 L90.95,241.05 L91.20,241.05 L91.45,241.05 L91.70,241.05 L91.95,241.05 L92.20,241.05 L92.45,241.05 L92.70,241.05 L92.95,241.05 L93.20,241.05 L93.45,241.05 L93.70,241.05 L93.95,241.05 L94.20,241.05 L94.45,241.05 L94.70,241.05 L94.95,241.05 L95.20,241.05 L95.45,241.05 L95.70,241.05 L95.95,241.05 L96.20,241.05 L96.45,241.05 L96.70,241.05 L96.95,241.05 L97.20,241.05 L97.45,241.05 L97.70,241.05 L97.95,241.05 L98.20,241.05 L98.45,241.05 L98.70,241.05 L98.95,241.05 L99.20,241.05 L99.45,241.05 L99.70,241.05 L99.95,241.05 L100.20,241.05 L100.45,241.05 L100.70,241.05 L100.95,241.05 L101.20,241.05 L101.45,241.05 L101.70,241.05 L101.95,241.05 L102.20,241.05 L102.45,241.05 L102.70,241.05 L102.95,241.05 L103.20,241.05 L103.45,241.05 L103.70,241.05 L103.95,241.05 L104.20,241.05 L104.45,241.05 L104.70,241.05 L104.95,241.05 L105.20,241.05 L105.45,241.05 L105.70,241.05 L105.95,241.05 L106.20,241.05 L106.45,241.05 L106.70,241.05 L106.95,241.05 L107.20,241.05 L107.45,241.05 L107.70,241.05 L107.95,241.05 L108.20,241.05 L108.45,241.05 L108.70,241.05 L108.95,241.05 L109.20,241.05 L109.45,241.05 L109.70,241.05 L109.95,241.05 L110.20,241.05 L110.45,241.05 L110.70,241.05 L110.95,241.05 L111.20,241.05 L111.45,241.05 L111.70,241.05 L111.95,241.05 L112.20,241.05 L112.45,241.05 L112.70,241.05 L112.95,241.05 L113.20,241.05 L113.45,241.05 L113.70,241.05 L113.95,241.05 L114.20,241.05 L114.45,241.05 L114.70,241.05 L114.95,241.05 L115.20,241.05 L115.45,241.05 L115.70,241.05 L115.95,241.05 L116.20,241.05 L116.45,241.05 L116.70,241.05 L116.95,241.05 L117.20,241.05 L117.45,241.05 L117.70,241.05 L117.95,241.05 L118.20,241.05 L118.45,241.05 L118.70,241.05 L118.95,241.05 L119.20,241.05 L119.45,241.05 L119.70,241.05 L119.95,241.05 L120.20,241.05 L120.45,241.05 L120.70,241.05 L120.95,241.05 L121.20,241.05 L121.45,241.05 L121.70,241.05 L121.95,241.05 L122.20,241.05 L122.45,241.05 L122.70,241.05 L122.95,241.05 L123.20,241.05 L123.45,241.05 L123.70,241.05 L123.95,241.05 L124.20,241.05 L124.45,241.05 L124.70,241.05 L124.95,241.05 L125.20,241.05 L125.45,241.05 L125.70,241.05 L125.95,241.05 L126.20,241.05 L126.45,241.05 L126.70,241.05 L126.95,241.05 L127.20,241.05 L127.45,241.05 L127.70,241.05 L127.95,241.05 L128.20,241.05 L128.45,241.05 L128.70,241.05 L128.95,241.05 L129.20,241.05 L129.45,241.05 L129.70,241.05 L129.95,241.05 L130.20,241.05 L130.45,241.05 L130.70,241.05 L130.95,241.05 L131.20,241.05 L131.45,241.05 L131.70,241.05 L131.95,241.05 L132.20,241.05 L132.45,241.05 L132.70,241.05 L132.95,241.05 L133.20,241.05 L133.45,241.05 L133.70,241.05 L133.95,241.05 L134.20,241.05 L134.45,241.05 L134.70,241.05 L134.95,241.05 L135.20,241.05 L135.45,241.05 L135.70,241.05 L135.95,241.05 L136.20,241.05 L136.45,241.05 L136.70,241.05 L136.95,241.05 L137.20,241.05 L137.45,241.05 L137.70,241.05 L137.95,241.05 L138.20,241.05 L138.45,241.05 L138.70,241.05 L138.95,241.05 L139.20,241.05 L139.45,241.05 L139.70,241.05 L139.95,241.05 L140.20,241.05 L140.45,241.05 L140.70,241.05 L140.95,241.05 L141.20,241.05 L141.45,241.05 L141.70,241.05 L141.95,241.05 L142.20,241.05 L142.45,241.05 L142.70,241.05 L142.95,241.05 L143.20,241.05 L143.45,241.05 L143.70,241.05 L143.95,241.05 L144.20,241.05 L144.45,241.05 L144.70,241.05 L144.95,241.05 L145.20,241.05 L145.45,241.05 L145.70,241.05 L145.95,241.05 L146.20,241.05 L146.45,241.05 L146.70,241.05 L146.95,241.05 L147.20,241.05 L147.45,241.05 L147.70,241.05 L147.95,241.05 L148.20,241.05 L148.45,241.05 L148.70,241.05 L148.95,241.05 L149.20,241.05 L149.45,241.05 L149.70,241.05 L149.95,241.05 L150.20,241.05 L150.45,241.05 L150.70,241.05 L150.95,241.05 L151.20,241.04 L151.45,241.04 L151.70,241.04 L151.95,241.04 L152.20,241.04 L152.45,241.04 L152.70,241.04 L152.95,241.04 L153.20,241.04 L153.45,241.04 L153.70,241.04 L153.95,241.04 L154.20,241.04 L154.45,241.04 L154.70,241.04 L154.95,241.04 L155.20,241.04 L155.45,241.04 L155.70,241.04 L155.95,241.04 L156.20,241.04 L156.45,241.04 L156.70,241.04 L156.95,241.04 L157.20,241.04 L157.45,241.04 L157.70,241.04 L157.95,241.04 L158.20,241.04 L158.45,241.04 L158.70,241.03 L158.95,241.03 L159.20,241.03 L159.45,241.03 L159.70,241.03 L159.95,241.03 L160.20,241.03 L160.45,241.03 L160.70,241.03 L160.95,241.03 L161.20,241.03 L161.45,241.03 L161.70,241.03 L161.95,241.03 L162.20,241.03 L162.45,241.02 L162.70,241.02 L162.95,241.02 L163.20,241.02 L163.45,241.02 L163.70,241.02 L163.95,241.02 L164.20,241.02 L164.45,241.02 L164.70,241.02 L164.95,241.01 L165.20,241.01 L165.45,241.01 L165.70,241.01 L165.95,241.01 L166.20,241.01 L166.45,241.01 L166.70,241.01 L166.95,241.00 L167.20,241.00 L167.45,241.00 L167.70,241.00 L167.95,241.00 L168.20,241.00 L168.45,240.99 L168.70,240.99 L168.95,240.99 L169.20,240.99 L169.45,240.99 L169.70,240.98 L169.95,240.98 L170.20,240.98 L170.45,240.98 L170.70,240.97 L170.95,240.97 L171.20,240.97 L171.45,240.97 L171.70,240.96 L171.95,240.96 L172.20,240.96 L172.45,240.96 L172.70,240.95 L172.95,240.95 L173.20,240.95 L173.45,240.94 L173.70,240.94 L173.95,240.94 L174.20,240.93 L174.45,240.93 L174.70,240.93 L174.95,240.92 L175.20,240.92 L175.45,240.91 L175.70,240.91 L175.95,240.91 L176.20,240.90 L176.45,240.90 L176.70,240.89 L176.95,240.89 L177.20,240.88 L177.45,240.88 L177.70,240.87 L177.95,240.87 L178.20,240.86 L178.45,240.85 L178.70,240.85 L178.95,240.84 L179.20,240.84 L179.45,240.83 L179.70,240.82 L179.95,240.82 L180.20,240.81 L180.45,240.80 L180.70,240.79 L180.95,240.79 L181.20,240.78 L181.45,240.77 L181.70,240.76 L181.95,240.75 L182.20,240.74 L182.45,240.74 L182.70,240.73 L182.95,240.72 L183.20,240.71 L183.45,240.70 L183.70,240.69 L183.95,240.68 L184.20,240.67 L184.45,240.65 L184.70,240.64 L184.95,240.63 L185.20,240.62 L185.45,240.61 L185.70,240.59 L185.95,240.58 L186.20,240.57 L186.45,240.55 L186.70,240.54 L186.95,240.53 L187.20,240.51 L187.45,240.50 L187.70,240.48 L187.95,240.47 L188.20,240.45 L188.45,240.43 L188.70,240.42 L188.95,240.40 L189.20,240.38 L189.45,240.36 L189.70,240.34 L189.95,240.32 L190.20,240.30 L190.45,240.28 L190.70,240.26 L190.95,240.24 L191.20,240.22 L191.45,240.20 L191.70,240.17 L191.95,240.15 L192.20,240.13 L192.45,240.10 L192.70,240.08 L192.95,240.05 L193.20,240.02 L193.45,240.00 L193.70,239.97 L193.95,239.94 L194.20,239.91 L194.45,239.88 L194.70,239.85 L194.95,239.82 L195.20,239.79 L195.45,239.75 L195.70,239.72 L195.95,239.69 L196.20,239.65 L196.45,239.61 L196.70,239.58 L196.95,239.54 L197.20,239.50 L197.45,239.46 L197.70,239.42 L197.95,239.38 L198.20,239.34 L198.45,239.30 L198.70,239.25 L198.95,239.21 L199.20,239.16 L199.45,239.11 L199.70,239.07 L199.95,239.02 L200.20,238.97 L200.45,238.92 L200.70,238.86 L200.95,238.81 L201.20,238.76 L201.45,238.70 L201.70,238.64 L201.95,238.58 L202.20,238.52 L202.45,238.46 L202.70,238.40 L202.95,238.34 L203.20,238.27 L203.45,238.21 L203.70,238.14 L203.95,238.07 L204.20,238.00 L204.45,237.93 L204.70,237.85 L204.95,237.78 L205.20,237.70 L205.45,237.63 L205.70,237.55 L205.95,237.47 L206.20,237.38 L206.45,237.30 L206.70,237.21 L206.95,237.12 L207.20,237.03 L207.45,236.94 L207.70,236.85 L207.95,236.75 L208.20,236.66 L208.45,236.56 L208.70,236.46 L208.95,236.36 L209.20,236.25 L209.45,236.14 L209.70,236.04 L209.95,235.92 L210.20,235.81 L210.45,235.70 L210.70,235.58 L210.95,235.46 L211.20,235.34 L211.45,235.21 L211.70,235.09 L211.95,234.96 L212.20,234.83 L212.45,234.69 L212.70,234.56 L212.95,234.42 L213.20,234.28 L213.45,234.14 L213.70,233.99 L213.95,233.84 L214.20,233.69 L214.45,233.54 L214.70,233.38 L214.95,233.22 L215.20,233.06 L215.45,232.89 L215.70,232.73 L215.95,232.55 L216.20,232.38 L216.45,232.20 L216.70,232.02 L216.95,231.84 L217.20,231.66 L217.45,231.47 L217.70,231.27 L217.95,231.08 L218.20,230.88 L218.45,230.68 L218.70,230.47 L218.95,230.26 L219.20,230.05 L219.45,229.84 L219.70,229.62 L219.95,229.40 L220.20,229.17 L220.45,228.94 L220.70,228.71 L220.95,228.47 L221.20,228.23 L221.45,227.98 L221.70,227.74 L221.95,227.48 L222.20,227.23 L222.45,226.97 L222.70,226.70 L222.95,226.44 L223.20,226.16 L223.45,225.89 L223.70,225.61 L223.95,225.32 L224.20,225.04 L224.45,224.74 L224.70,224.45 L224.95,224.14 L225.20,223.84 L225.45,223.53 L225.70,223.21 L225.95,222.90 L226.20,222.57 L226.45,222.24 L226.70,221.91 L226.95,221.57 L227.20,221.23 L227.45,220.89 L227.70,220.53 L227.95,220.18 L228.20,219.82 L228.45,219.45 L228.70,219.08 L228.95,218.71 L229.20,218.32 L229.45,217.94 L229.70,217.55 L229.95,217.15 L230.20,216.75 L230.45,216.35 L230.70,215.94 L230.95,215.52 L231.20,215.10 L231.45,214.67 L231.70,214.24 L231.95,213.80 L232.20,213.36 L232.45,212.91 L232.70,212.46 L232.95,212.00 L233.20,211.54 L233.45,211.07 L233.70,210.59 L233.95,210.11 L234.20,209.62 L234.45,209.13 L234.70,208.64 L234.95,208.13 L235.20,207.62 L235.45,207.11 L235.70,206.59 L235.95,206.06 L236.20,205.53 L236.45,205.00 L236.70,204.45 L236.95,203.90 L237.20,203.35 L237.45,202.79 L237.70,202.22 L237.95,201.65 L238.20,201.07 L238.45,200.49 L238.70,199.90 L238.95,199.30 L239.20,198.70 L239.45,198.10 L239.70,197.48 L239.95,196.86 L240.20,196.24 L240.45,195.61 L240.70,194.97 L240.95,194.33 L241.20,193.68 L241.45,193.03 L241.70,192.37 L241.95,191.70 L242.20,191.03 L242.45,190.35 L242.70,189.67 L242.95,188.98 L243.20,188.28 L243.45,187.58 L243.70,186.87 L243.95,186.16 L244.20,185.44 L244.45,184.72 L244.70,183.99 L244.95,183.25 L245.20,182.51 L245.45,181.76 L245.70,181.01 L245.95,180.25 L246.20,179.49 L246.45,178.72 L246.70,177.94 L246.95,177.16 L247.20,176.38 L247.45,175.58 L247.70,174.79 L247.95,173.98 L248.20,173.18 L248.45,172.36 L248.70,171.54 L248.95,170.72 L249.20,169.89 L249.45,169.06 L249.70,168.22 L249.95,167.37 L250.20,166.53 L250.45,165.67 L250.70,164.81 L250.95,163.95 L251.20,163.08 L251.45,162.21 L251.70,161.33 L251.95,160.45 L252.20,159.56 L252.45,158.67 L252.70,157.78 L252.95,156.88 L253.20,155.97 L253.45,155.06 L253.70,154.15 L253.95,153.24 L254.20,152.32 L254.45,151.39 L254.70,150.46 L254.95,149.53 L255.20,148.60 L255.45,147.66 L255.70,146.72 L255.95,145.77 L256.20,144.82 L256.45,143.87 L256.70,142.92 L256.95,141.96 L257.20,141.00 L257.45,140.04 L257.70,139.07 L257.95,138.10 L258.20,137.13 L258.45,136.16 L258.70,135.18 L258.95,134.20 L259.20,133.22 L259.45,132.24 L259.70,131.26 L259.95,130.27 L260.20,129.28 L260.45,128.29 L260.70,127.30 L260.95,126.31 L261.20,125.32 L261.45,124.33 L261.70,123.33 L261.95,122.34 L262.20,121.34 L262.45,120.34 L262.70,119.35 L262.95,118.35 L263.20,117.35 L263.45,116.36 L263.70,115.36 L263.95,114.36 L264.20,113.36 L264.45,112.37 L264.70,111.37 L264.95,110.38 L265.20,109.38 L265.45,108.39 L265.70,107.40 L265.95,106.41 L266.20,105.42 L266.45,104.43 L266.70,103.44 L266.95,102.46 L267.20,101.48 L267.45,100.50 L267.70,99.52 L267.95,98.54 L268.20,97.57 L268.45,96.60 L268.70,95.63 L268.95,94.67 L269.20,93.71 L269.45,92.75 L269.70,91.79 L269.95,90.84 L270.20,89.89 L270.45,88.95 L270.70,88.01 L270.95,87.08 L271.20,86.14 L271.45,85.22 L271.70,84.30 L271.95,83.38 L272.20,82.47 L272.45,81.56 L272.70,80.66 L272.95,79.76 L273.20,78.87 L273.45,77.98 L273.70,77.10 L273.95,76.23 L274.20,75.36 L274.45,74.50 L274.70,73.64 L274.95,72.79 L275.20,71.95 L275.45,71.11 L275.70,70.29 L275.95,69.46 L276.20,68.65 L276.45,67.84 L276.70,67.04 L276.95,66.25 L277.20,65.47 L277.45,64.69 L277.70,63.92 L277.95,63.16 L278.20,62.41 L278.45,61.66 L278.70,60.93 L278.95,60.20 L279.20,59.48 L279.45,58.77 L279.70,58.08 L279.95,57.38 L280.20,56.70 L280.45,56.03 L280.70,55.37 L280.95,54.72 L281.20,54.07 L281.45,53.44 L281.70,52.82 L281.95,52.20 L282.20,51.60 L282.45,51.01 L282.70,50.43 L282.95,49.86 L283.20,49.30 L283.45,48.75 L283.70,48.21 L283.95,47.68 L284.20,47.16 L284.45,46.66 L284.70,46.16 L284.95,45.68 L285.20,45.21 L285.45,44.75 L285.70,44.30 L285.95,43.86 L286.20,43.44 L286.45,43.03 L286.70,42.63 L286.95,42.24 L287.20,41.86 L287.45,41.50 L287.70,41.14 L287.95,40.80 L288.20,40.48 L288.45,40.16 L288.70,39.86 L288.95,39.57 L289.20,39.29 L289.45,39.03 L289.70,38.77 L289.95,38.53 L290.20,38.31 L290.45,38.09 L290.70,37.89 L290.95,37.71 L291.20,37.53 L291.45,37.37 L291.70,37.22 L291.95,37.08 L292.20,36.96 L292.45,36.85 L292.70,36.76 L292.95,36.67 L293.20,36.60 L293.45,36.55 L293.70,36.50 L293.95,36.47 L294.20,36.45 L294.45,36.45 L294.70,36.46 L294.95,36.48 L295.20,36.52 L295.45,36.57 L295.70,36.63 L295.95,36.70 L296.20,36.79 L296.45,36.89 L296.70,37.01 L296.95,37.14 L297.20,37.28 L297.45,37.43 L297.70,37.60 L297.95,37.78 L298.20,37.97 L298.45,38.18 L298.70,38.40 L298.95,38.63 L299.20,38.87 L299.45,39.13 L299.70,39.40 L299.95,39.68 L300.20,39.98 L300.45,40.28 L300.70,40.61 L300.95,40.94 L301.20,41.28 L301.45,41.64 L301.70,42.01 L301.95,42.39 L302.20,42.78 L302.45,43.19 L302.70,43.61 L302.95,44.04 L303.20,44.48 L303.45,44.93 L303.70,45.40 L303.95,45.87 L304.20,46.36 L304.45,46.86 L304.70,47.37 L304.95,47.89 L305.20,48.42 L305.45,48.97 L305.70,49.52 L305.95,50.08 L306.20,50.66 L306.45,51.25 L306.70,51.84 L306.95,52.45 L307.20,53.07 L307.45,53.69 L307.70,54.33 L307.95,54.98 L308.20,55.63 L308.45,56.30 L308.70,56.97 L308.95,57.66 L309.20,58.35 L309.45,59.06 L309.70,59.77 L309.95,60.49 L310.20,61.22 L310.45,61.96 L310.70,62.71 L310.95,63.46 L311.20,64.23 L311.45,65.00 L311.70,65.78 L311.95,66.57 L312.20,67.36 L312.45,68.16 L312.70,68.97 L312.95,69.79 L313.20,70.62 L313.45,71.45 L313.70,72.29 L313.95,73.13 L314.20,73.98 L314.45,74.84 L314.70,75.71 L314.95,76.58 L315.20,77.45 L315.45,78.34 L315.70,79.22 L315.95,80.12 L316.20,81.02 L316.45,81.92 L316.70,82.83 L316.95,83.75 L317.20,84.66 L317.45,85.59 L317.70,86.52 L317.95,87.45 L318.20,88.39 L318.45,89.33 L318.70,90.27 L318.95,91.22 L319.20,92.17 L319.45,93.13 L319.70,94.09 L319.95,95.05 L320.20,96.02 L320.45,96.99 L320.70,97.96 L320.95,98.93 L321.20,99.91 L321.45,100.89 L321.70,101.87 L321.95,102.85 L322.20,103.84 L322.45,104.82 L322.70,105.81 L322.95,106.80 L323.20,107.79 L323.45,108.79 L323.70,109.78 L323.95,110.77 L324.20,111.77 L324.45,112.77 L324.70,113.76 L324.95,114.76 L325.20,115.76 L325.45,116.75 L325.70,117.75 L325.95,118.75 L326.20,119.75 L326.45,120.74 L326.70,121.74 L326.95,122.74 L327.20,123.73 L327.45,124.72 L327.70,125.72 L327.95,126.71 L328.20,127.70 L328.45,128.69 L328.70,129.68 L328.95,130.67 L329.20,131.65 L329.45,132.63 L329.70,133.61 L329.95,134.59 L330.20,135.57 L330.45,136.55 L330.70,137.52 L330.95,138.49 L331.20,139.46 L331.45,140.42 L331.70,141.38 L331.95,142.34 L332.20,143.30 L332.45,144.25 L332.70,145.20 L332.95,146.15 L333.20,147.09 L333.45,148.04 L333.70,148.97 L333.95,149.91 L334.20,150.84 L334.45,151.76 L334.70,152.68 L334.95,153.60 L335.20,154.52 L335.45,155.43 L335.70,156.33 L335.95,157.24 L336.20,158.13 L336.45,159.03 L336.70,159.92 L336.95,160.80 L337.20,161.68 L337.45,162.56 L337.70,163.43 L337.95,164.30 L338.20,165.16 L338.45,166.01 L338.70,166.87 L338.95,167.71 L339.20,168.56 L339.45,169.39 L339.70,170.22 L339.95,171.05 L340.20,171.87 L340.45,172.69 L340.70,173.50 L340.95,174.31 L341.20,175.11 L341.45,175.90 L341.70,176.69 L341.95,177.47 L342.20,178.25 L342.45,179.03 L342.70,179.79 L342.95,180.56 L343.20,181.31 L343.45,182.06 L343.70,182.81 L343.95,183.55 L344.20,184.28 L344.45,185.01 L344.70,185.73 L344.95,186.45 L345.20,187.16 L345.45,187.86 L345.70,188.56 L345.95,189.25 L346.20,189.94 L346.45,190.62 L346.70,191.30 L346.95,191.97 L347.20,192.63 L347.45,193.29 L347.70,193.94 L347.95,194.59 L348.20,195.23 L348.45,195.86 L348.70,196.49 L348.95,197.11 L349.20,197.73 L349.45,198.34 L349.70,198.94 L349.95,199.54 L350.20,200.14 L350.45,200.72 L350.70,201.31 L350.95,201.88 L351.20,202.45 L351.45,203.01 L351.70,203.57 L351.95,204.12 L352.20,204.67 L352.45,205.21 L352.70,205.75 L352.95,206.28 L353.20,206.80 L353.45,207.32 L353.70,207.83 L353.95,208.33 L354.20,208.84 L354.45,209.33 L354.70,209.82 L354.95,210.30 L355.20,210.78 L355.45,211.26 L355.70,211.72 L355.95,212.18 L356.20,212.64 L356.45,213.09 L356.70,213.54 L356.95,213.98 L357.20,214.41 L357.45,214.84 L357.70,215.27 L357.95,215.69 L358.20,216.10 L358.45,216.51 L358.70,216.91 L358.95,217.31 L359.20,217.71 L359.45,218.09 L359.70,218.48 L359.95,218.86 L360.20,219.23 L360.45,219.60 L360.70,219.96 L360.95,220.32 L361.20,220.68 L361.45,221.02 L361.70,221.37 L361.95,221.71 L362.20,222.04 L362.45,222.38 L362.70,222.70 L362.95,223.02 L363.20,223.34 L363.45,223.65 L363.70,223.96 L363.95,224.27 L364.20,224.56 L364.45,224.86 L364.70,225.15 L364.95,225.44 L365.20,225.72 L365.45,226.00 L365.70,226.27 L365.95,226.54 L366.20,226.81 L366.45,227.07 L366.70,227.33 L366.95,227.59 L367.20,227.84 L367.45,228.08 L367.70,228.33 L367.95,228.56 L368.20,228.80 L368.45,229.03 L368.70,229.26 L368.95,229.48 L369.20,229.71 L369.45,229.92 L369.70,230.14 L369.95,230.35 L370.20,230.56 L370.45,230.76 L370.70,230.96 L370.95,231.16 L371.20,231.35 L371.45,231.54 L371.70,231.73 L371.95,231.91 L372.20,232.10 L372.45,232.28 L372.70,232.45 L372.95,232.62 L373.20,232.79 L373.45,232.96 L373.70,233.12 L373.95,233.28 L374.20,233.44 L374.45,233.60 L374.70,233.75 L374.95,233.90 L375.20,234.05 L375.45,234.19 L375.70,234.34 L375.95,234.48 L376.20,234.61 L376.45,234.75 L376.70,234.88 L376.95,235.01 L377.20,235.14 L377.45,235.26 L377.70,235.39 L377.95,235.51 L378.20,235.63 L378.45,235.74 L378.70,235.86 L378.95,235.97 L379.20,236.08 L379.45,236.19 L379.70,236.29 L379.95,236.40 L380.20,236.50 L380.45,236.60 L380.70,236.70 L380.95,236.79 L381.20,236.89 L381.45,236.98 L381.70,237.07 L381.95,237.16 L382.20,237.25 L382.45,237.33 L382.70,237.42 L382.95,237.50 L383.20,237.58 L383.45,237.66 L383.70,237.73 L383.95,237.81 L384.20,237.88 L384.45,237.96 L384.70,238.03 L384.95,238.10 L385.20,238.17 L385.45,238.23 L385.70,238.30 L385.95,238.36 L386.20,238.43 L386.45,238.49 L386.70,238.55 L386.95,238.61 L387.20,238.67 L387.45,238.72 L387.70,238.78 L387.95,238.83 L388.20,238.88 L388.45,238.94 L388.70,238.99 L388.95,239.04 L389.20,239.09 L389.45,239.13 L389.70,239.18 L389.95,239.23 L390.20,239.27 L390.45,239.31 L390.70,239.36 L390.95,239.40 L391.20,239.44 L391.45,239.48 L391.70,239.52 L391.95,239.56 L392.20,239.59 L392.45,239.63 L392.70,239.66 L392.95,239.70 L393.20,239.73 L393.45,239.77 L393.70,239.80 L393.95,239.83 L394.20,239.86 L394.45,239.89 L394.70,239.92 L394.95,239.95 L395.20,239.98 L395.45,240.01 L395.70,240.03 L395.95,240.06 L396.20,240.09 L396.45,240.11 L396.70,240.14 L396.95,240.16 L397.20,240.18 L397.45,240.21 L397.70,240.23 L397.95,240.25 L398.20,240.27 L398.45,240.29 L398.70,240.31 L398.95,240.33 L399.20,240.35 L399.45,240.37 L399.70,240.39 L399.95,240.40 L400.20,240.42 L400.45,240.44 L400.70,240.46 L400.95,240.47 L401.20,240.49 L401.45,240.50 L401.70,240.52 L401.95,240.53 L402.20,240.55 L402.45,240.56 L402.70,240.57 L402.95,240.59 L403.20,240.60 L403.45,240.61 L403.70,240.62 L403.95,240.64 L404.20,240.65 L404.45,240.66 L404.70,240.67 L404.95,240.68 L405.20,240.69 L405.45,240.70 L405.70,240.71 L405.95,240.72 L406.20,240.73 L406.45,240.74 L406.70,240.75 L406.95,240.76 L407.20,240.77 L407.45,240.77 L407.70,240.78 L407.95,240.79 L408.20,240.80 L408.45,240.80 L408.70,240.81 L408.95,240.82 L409.20,240.83 L409.45,240.83 L409.70,240.84 L409.95,240.84 L410.20,240.85 L410.45,240.86 L410.70,240.86 L410.95,240.87 L411.20,240.87 L411.45,240.88 L411.70,240.88 L411.95,240.89 L412.20,240.89 L412.45,240.90 L412.70,240.90 L412.95,240.91 L413.20,240.91 L413.45,240.92 L413.70,240.92 L413.95,240.92 L414.20,240.93 L414.45,240.93 L414.70,240.93 L414.95,240.94 L415.20,240.94 L415.45,240.95 L415.70,240.95 L415.95,240.95 L416.20,240.95 L416.45,240.96 L416.70,240.96 L416.95,240.96 L417.20,240.97 L417.45,240.97 L417.70,240.97 L417.95,240.97 L418.20,240.98 L418.45,240.98 L418.70,240.98 L418.95,240.98 L419.20,240.98 L419.45,240.99 L419.70,240.99 L419.95,240.99 L420.20,240.99 L420.45,240.99 L420.70,241.00 L420.95,241.00 L421.20,241.00 L421.45,241.00 L421.70,241.00 L421.95,241.00 L422.20,241.01 L422.45,241.01 L422.70,241.01 L422.95,241.01 L423.20,241.01 L423.45,241.01 L423.70,241.01 L423.95,241.02 L424.20,241.02 L424.45,241.02 L424.70,241.02 L424.95,241.02 L425.20,241.02 L425.45,241.02 L425.70,241.02 L425.95,241.02 L426.20,241.02 L426.45,241.03 L426.70,241.03 L426.95,241.03 L427.20,241.03 L427.45,241.03 L427.70,241.03 L427.95,241.03 L428.20,241.03 L428.45,241.03 L428.70,241.03 L428.95,241.03 L429.20,241.03 L429.45,241.03 L429.70,241.03 L429.95,241.03 L430.20,241.04 L430.45,241.04 L430.70,241.04 L430.95,241.04 L431.20,241.04 L431.45,241.04 L431.70,241.04 L431.95,241.04 L432.20,241.04 L432.45,241.04 L432.70,241.04 L432.95,241.04 L433.20,241.04 L433.45,241.04 L433.70,241.04 L433.95,241.04 L434.20,241.04 L434.45,241.04 L434.70,241.04 L434.95,241.04 L435.20,241.04 L435.45,241.04 L435.70,241.04 L435.95,241.04 L436.20,241.04 L436.45,241.04 L436.70,241.04 L436.95,241.04 L437.20,241.04 L437.45,241.04 L437.70,241.04 L437.95,241.05 L438.20,241.05 L438.45,241.05 L438.70,241.05 L438.95,241.05 L439.20,241.05 L439.45,241.05 L439.70,241.05 L439.95,241.05 L440.20,241.05 L440.45,241.05 L440.70,241.05 L440.95,241.05 L441.20,241.05 L441.45,241.05 L441.70,241.05 L441.95,241.05 L442.20,241.05 L442.45,241.05 L442.70,241.05 L442.95,241.05 L443.20,241.05 L443.45,241.05 L443.70,241.05 L443.95,241.05 L444.20,241.05 L444.45,241.05 L444.70,241.05 L444.95,241.05 L445.20,241.05 L445.45,241.05 L445.70,241.05 L445.95,241.05 L446.20,241.05 L446.45,241.05 L446.70,241.05 L446.95,241.05 L447.20,241.05 L447.45,241.05 L447.70,241.05 L447.95,241.05 L448.20,241.05 L448.45,241.05 L448.70,241.05 L448.95,241.05 L449.20,241.05 L449.45,241.05 L449.70,241.05 L449.95,241.05 L450.20,241.05 L450.45,241.05 L450.70,241.05 L450.95,241.05 L451.20,241.05 L451.45,241.05 L451.70,241.05 L451.95,241.05 L452.20,241.05 L452.45,241.05 L452.70,241.05 L452.95,241.05 L453.20,241.05 L453.45,241.05 L453.70,241.05 L453.95,241.05 L454.20,241.05 L454.45,241.05 L454.70,241.05 L454.95,241.05 L455.20,241.05 L455.45,241.05 L455.70,241.05 L455.95,241.05 L456.20,241.05 L456.45,241.05 L456.70,241.05 L456.95,241.05 L457.20,241.05 L457.45,241.05 L457.70,241.05 L457.95,241.05 L458.20,241.05 L458.45,241.05 L458.70,241.05 L458.95,241.05 L459.20,241.05 L459.45,241.05 L459.70,241.05 L459.95,241.05 L460.20,241.05 L460.45,241.05 L460.70,241.05 L460.95,241.05 L461.20,241.05 L461.45,241.05 L461.70,241.05 L461.95,241.05 L462.20,241.05 L462.45,241.05 L462.70,241.05 L462.95,241.05 L463.20,241.05 L463.45,241.05 L463.70,241.05 L463.95,241.05 L464.20,241.05 L464.45,241.05 L464.70,241.05 L464.95,241.05 L465.20,241.05 L465.45,241.05 L465.70,241.05 L465.95,241.05 L466.20,241.05 L466.45,241.05 L466.70,241.05 L466.95,241.05 L467.20,241.05 L467.45,241.05 L467.70,241.05 L467.95,241.05 L468.20,241.05 L468.45,241.05 L468.70,241.05 L468.95,241.05 L469.20,241.05 L469.45,241.05 L469.70,241.05 L469.95,241.05 L470.20,241.05 L470.45,241.05 L470.70,241.05 L470.95,241.05 L471.20,241.05 L471.45,241.05 L471.70,241.05 L471.95,241.05 L472.20,241.05 L472.45,241.05 L472.70,241.05 L472.95,241.05 L473.20,241.05 L473.45,241.05 L473.70,241.05 L473.95,241.05 L474.20,241.05 L474.45,241.05 L474.70,241.05 L474.95,241.05 L475.20,241.05 L475.45,241.05 L475.70,241.05 L475.95,241.05" stroke-width="3.1"/>
</g>
</g>
</svg>
</body></html>
